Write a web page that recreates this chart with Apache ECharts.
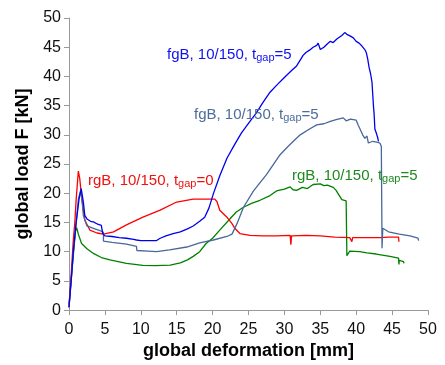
<!DOCTYPE html>
<html><head><meta charset="utf-8">
<script src="https://cdn.jsdelivr.net/npm/echarts@6/dist/echarts.min.js"></script>
<style>html,body{margin:0;padding:0;background:#fff}#c{width:445px;height:365px}</style>
</head><body><div id="c"></div>
<script>
const xTicks = [0,5,10,15,20,25,30,35,40,45,50];
const yTicks = [0,5,10,15,20,25,30,35,40,45,50];
const seriesNames = ['fgB, 10/150, tgap=5 (a)','fgB, 10/150, tgap=5 (b)','rgB, 10/150, tgap=0','rgB, 10/150, tgap=5'];
const fgB_a = [[0,0.5],[0.3,5],[0.6,10],[1.0,15],[1.4,19],[1.7,20.8],[1.85,20.5],[2.0,18.5],[2.2,16.2],[2.5,15.6],[3.0,15.2],[3.4,15.1],[4.0,14.7],[4.5,14.5],[4.7,13.1],[5.0,12.7],[6.0,12.6],[7.0,12.4],[8.0,12.3],[9.0,12.1],[9.4,12.0],[10,11.9],[11,11.9],[12.2,11.9],[12.7,12.3],[13.5,12.7],[14.5,13.1],[15.5,13.4],[16.5,13.9],[17.3,14.4],[18.2,15.2],[18.9,15.9],[19.5,17.5],[20.1,19.9],[21,23],[22,26],[23,28.2],[24,30.3],[25.2,32.3],[26,33.6],[27,35.5],[28,37.3],[29,38.6],[30,39.8],[31,41],[31.7,41.8],[32.2,42.8],[32.6,43.6],[33,44.1],[33.5,44.5],[34,45],[34.5,45.3],[34.7,45.7],[35,44.6],[35.5,45],[36,45.6],[36.4,46],[36.8,45.8],[37.3,46.4],[38,47],[38.4,47.5],[38.7,47.2],[39.2,46.9],[39.6,46.6],[40,46],[40.4,45.7],[40.8,45.2],[41.2,44.6],[41.4,44.1],[41.6,43],[41.8,41.5],[42,40.5],[42.2,39],[42.3,37],[42.4,35],[42.5,33.5],[42.6,31],[42.8,30.3],[43,29.5],[43.1,28.9]];
const fgB_b = [[0,0.5],[0.3,5],[0.6,10],[1.0,15],[1.3,19],[1.6,20.4],[1.8,19],[2.0,16.2],[2.5,14.4],[3.4,14.0],[4.5,13.5],[4.8,13.3],[4.8,11.8],[6,11.6],[8,11.3],[9.4,10.9],[9.45,10.2],[11,10.1],[12.2,10.0],[14,10.3],[16.4,10.8],[18.2,11.5],[20.1,12.0],[22,12.6],[22.7,13],[23.4,14.8],[24.3,17.6],[25.7,20.4],[27.5,23.2],[29.4,26.6],[30.5,28],[31.5,29.2],[32.2,30],[33.5,31],[34.5,31.7],[35.5,31.9],[36.4,32.3],[37.2,32.6],[38.2,32.9],[38.6,32.4],[39.2,32.7],[40,32.5],[40.3,31.6],[40.5,31.1],[40.9,30],[41.2,29.4],[41.5,29.8],[41.7,28.6],[42.3,28.9],[43,28.7],[43.3,28.6],[43.5,28],[43.6,10.6],[43.7,14],[44.5,13.4],[46,13],[47.5,12.7],[48.6,12.3],[48.7,11.9]];
const rgB_0 = [[0,0.5],[0.3,6],[0.6,12],[0.8,14.8],[1.0,19],[1.3,23.8],[1.5,22.5],[1.75,19.3],[2.2,15.4],[2.9,13.7],[3.9,13.2],[4.8,13.0],[6.2,13.4],[8,14.6],[10.3,15.9],[12.7,17.1],[15,18.5],[17.3,19],[18.2,19],[20.3,19],[20.6,18.6],[21,17.1],[22,15.9],[22.7,14.8],[23.1,14],[23.8,13.1],[25.2,12.8],[27,12.7],[28.9,12.7],[30.8,12.8],[30.9,11.2],[31,12.7],[33,12.8],[35,12.7],[37,12.5],[39.1,12.4],[39.4,11.7],[39.5,12.4],[41,12.4],[43.3,12.4],[44.5,12.5],[45.9,12.5],[45.95,11.7]];
const rgB_5 = [[0,1],[0.5,8],[0.9,13.5],[1.07,14.1],[1.3,13],[1.75,11.4],[2.5,10.5],[3.4,9.7],[4.5,9.0],[5.7,8.6],[8,8.0],[10.3,7.65],[12,7.6],[14.1,7.7],[15.5,8.1],[16.5,8.6],[17.3,9.2],[18.2,10],[19.1,11.4],[20,12.3],[21,13.7],[22.4,15.6],[23.3,16.8],[24.3,17.6],[25.5,18.3],[26.6,18.8],[28,19.6],[28.9,20.4],[30,20.7],[30.8,21.1],[31.2,20.6],[31.7,20.5],[32.5,21],[33.2,20.8],[34,21.5],[35,21.6],[35.5,21.3],[36,21.4],[36.8,21],[37.2,20.5],[37.5,19.9],[37.8,19.3],[38,18.9],[38.6,18.7],[38.7,9.3],[39.1,10.1],[40.5,10],[41.5,9.8],[42.8,9.6],[44.7,9.2],[45.9,8.9],[45.95,7.8],[46,8.5],[46.6,8.3],[46.65,8]];
const labelsText = [
  {pre:'fgB, 10/150, t', sub:'gap', post:'=5', color:'#1010F0', x:167, y:56},
  {pre:'fgB, 10/150, t', sub:'gap', post:'=5', color:'#4C6C9C', x:194, y:116},
  {pre:'rgB, 10/150, t', sub:'gap', post:'=0', color:'#F01010', x:88, y:182},
  {pre:'rgB, 10/150, t', sub:'gap', post:'=5', color:'#1E8A1E', x:292, y:177}
];
const colors = ['#0000F0','#48689A','#FF0000','#008000'];
const datasets = [fgB_a, fgB_b, rgB_0, rgB_5];

const chart = echarts.init(document.getElementById('c'), null, {renderer:'canvas'});
const FONT = 'Liberation Sans, Arial, sans-serif';
chart.setOption({
  animation:false,
  backgroundColor:'#fff',
  grid:{left:69,right:17,top:18,bottom:51,containLabel:false},
  xAxis:{type:'value',min:0,max:50,interval:5,
    name:'global deformation [mm]',nameLocation:'middle',nameGap:27,
    nameTextStyle:{fontFamily:FONT,fontWeight:'bold',fontSize:18,color:'#000'},
    axisLine:{show:true,lineStyle:{color:'#999',width:1}},
    axisTick:{show:true,length:5,lineStyle:{color:'#999'}},
    axisLabel:{fontFamily:FONT,fontSize:16,color:'#111',margin:11},
    splitLine:{show:false}},
  yAxis:{type:'value',min:0,max:50,interval:5,
    name:'global load F [kN]',nameLocation:'middle',nameGap:34,nameRotate:90,
    nameTextStyle:{fontFamily:FONT,fontWeight:'bold',fontSize:18,color:'#000'},
    axisLine:{show:true,lineStyle:{color:'#999',width:1}},
    axisTick:{show:true,length:5,lineStyle:{color:'#999'}},
    axisLabel:{fontFamily:FONT,fontSize:16,color:'#111',margin:8},
    splitLine:{show:false}},
  series: datasets.map((d,i)=>({type:'line',name:seriesNames[i],data:d,showSymbol:false,symbol:'none',
    lineStyle:{color:colors[i],width:1.3},itemStyle:{color:colors[i]},z:4-i})),
  graphic: labelsText.map(l=>({type:'text',left:l.x,top:l.y-9,z:100,
    style:{text:'{a|'+l.pre+'}{s|'+l.sub+'}{a|'+l.post+'}',fill:l.color,
      rich:{a:{fontFamily:FONT,fontSize:15,fill:l.color,color:l.color,lineHeight:18,verticalAlign:'middle'},
            s:{fontFamily:FONT,fontSize:11,fill:l.color,color:l.color,lineHeight:18,verticalAlign:'bottom'}}}}))
});
</script></body></html>
